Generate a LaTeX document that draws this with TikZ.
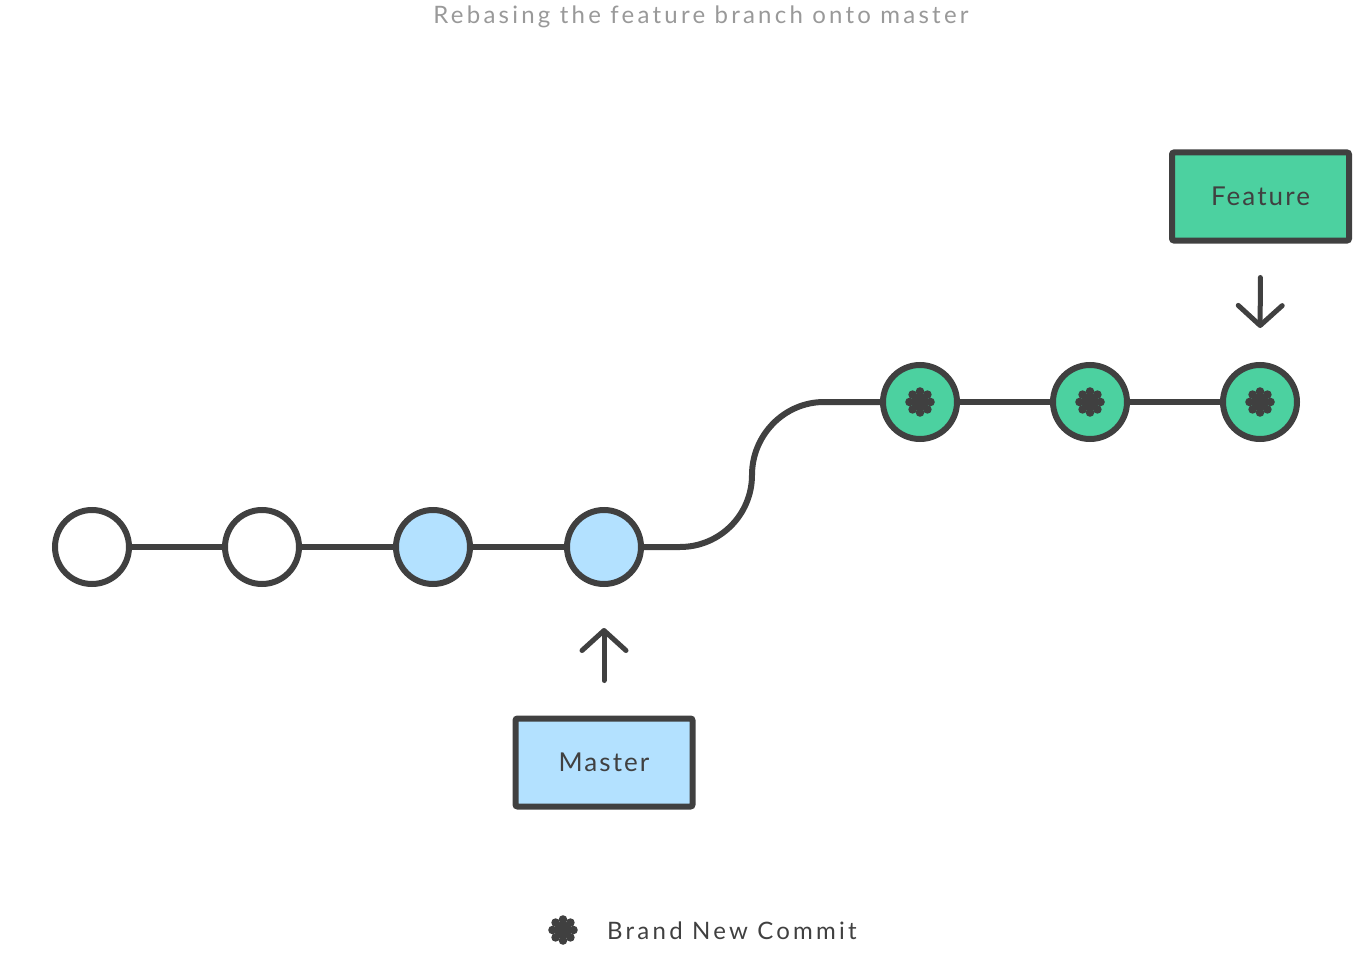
\documentclass[tikz,border=0pt]{standalone}
\usepackage{fontspec}
\setmainfont{Lato}
\usetikzlibrary{arrows.meta}
\definecolor{dark}{HTML}{404040}
\definecolor{blue}{HTML}{B3E1FF}
\definecolor{green}{HTML}{4CD1A0}
\definecolor{titlegray}{HTML}{999999}
\tikzset{
  commit/.style={circle, draw=dark, line width=6pt, minimum size=74pt, inner sep=0pt},
  plain/.style={commit, fill=white},
  bluec/.style={commit, fill=blue},
  greenc/.style={commit, fill=green},
  branchbox/.style={draw=dark, line width=6pt, rounded corners=2pt, minimum width=177pt, minimum height=88pt, inner sep=0pt, text=dark, font=\fontsize{26}{30}\selectfont\addfontfeature{LetterSpace=8}},
  edge/.style={draw=dark, line width=6pt},
  pointer/.style={draw=dark, line width=5pt, line cap=round, -{Straight Barb[length=20pt, width=44pt, round]}},
  flower/.pic={
    \fill[dark] (0,0) circle (8.5pt);
    \foreach \a in {0,45,...,315} \fill[dark] (\a:10.5pt) circle (4.3pt);
  }
}
\begin{document}
\begin{tikzpicture}[x=1pt, y=-1pt]
\useasboundingbox (0,0) rectangle (1371,963);
% title
\node[anchor=base, text=titlegray, font=\fontsize{24}{28}\selectfont\addfontfeature{LetterSpace=13.5}] (title) at (701,24) {Rebasing the feature branch onto master};
% commits
\node[plain] (c1) at (92,547) {};
\node[plain] (c2) at (262,547) {};
\node[bluec] (c3) at (433,547) {};
\node[bluec] (c4) at (604,547) {};
\node[greenc] (f1) at (920,402) {};
\node[greenc] (f2) at (1090,402) {};
\node[greenc] (f3) at (1260,402) {};
\pic at (f1.center) {flower};
\pic at (f2.center) {flower};
\pic at (f3.center) {flower};
% edges
\draw[edge] (c1) -- (c2);
\draw[edge] (c2) -- (c3);
\draw[edge] (c3) -- (c4);
\coordinate (k1) at (680,547);
\coordinate (k2) at (752,475);
\coordinate (k3) at (824,402);
\draw[edge] (c4.east) -- (k1) .. controls (719.8,547) and (752,514.8) .. (k2) .. controls (752,435.2) and (784.2,402) .. (k3) -- (f1.west);
\draw[edge] (f1) -- (f2);
\draw[edge] (f2) -- (f3);
% branch labels
\node[branchbox, fill=green] (feature) at (1260.5,196.5) {Feature};
\node[branchbox, fill=blue] (master) at (604,762.5) {Master};
\draw[pointer, shorten <=34pt, shorten >=34pt] (feature.south) -- (f3.north);
\draw[pointer, shorten <=35pt, shorten >=41pt] (master.north) -- (c4.south);
% legend
\coordinate (legstar) at (563,930);
\pic at (legstar) {flower};
\node[anchor=base west, inner sep=0pt, text=dark, font=\fontsize{24}{28}\selectfont\addfontfeature{LetterSpace=13.5}] (legend) at (607,939) {Brand New Commit};
\end{tikzpicture}
\end{document}
